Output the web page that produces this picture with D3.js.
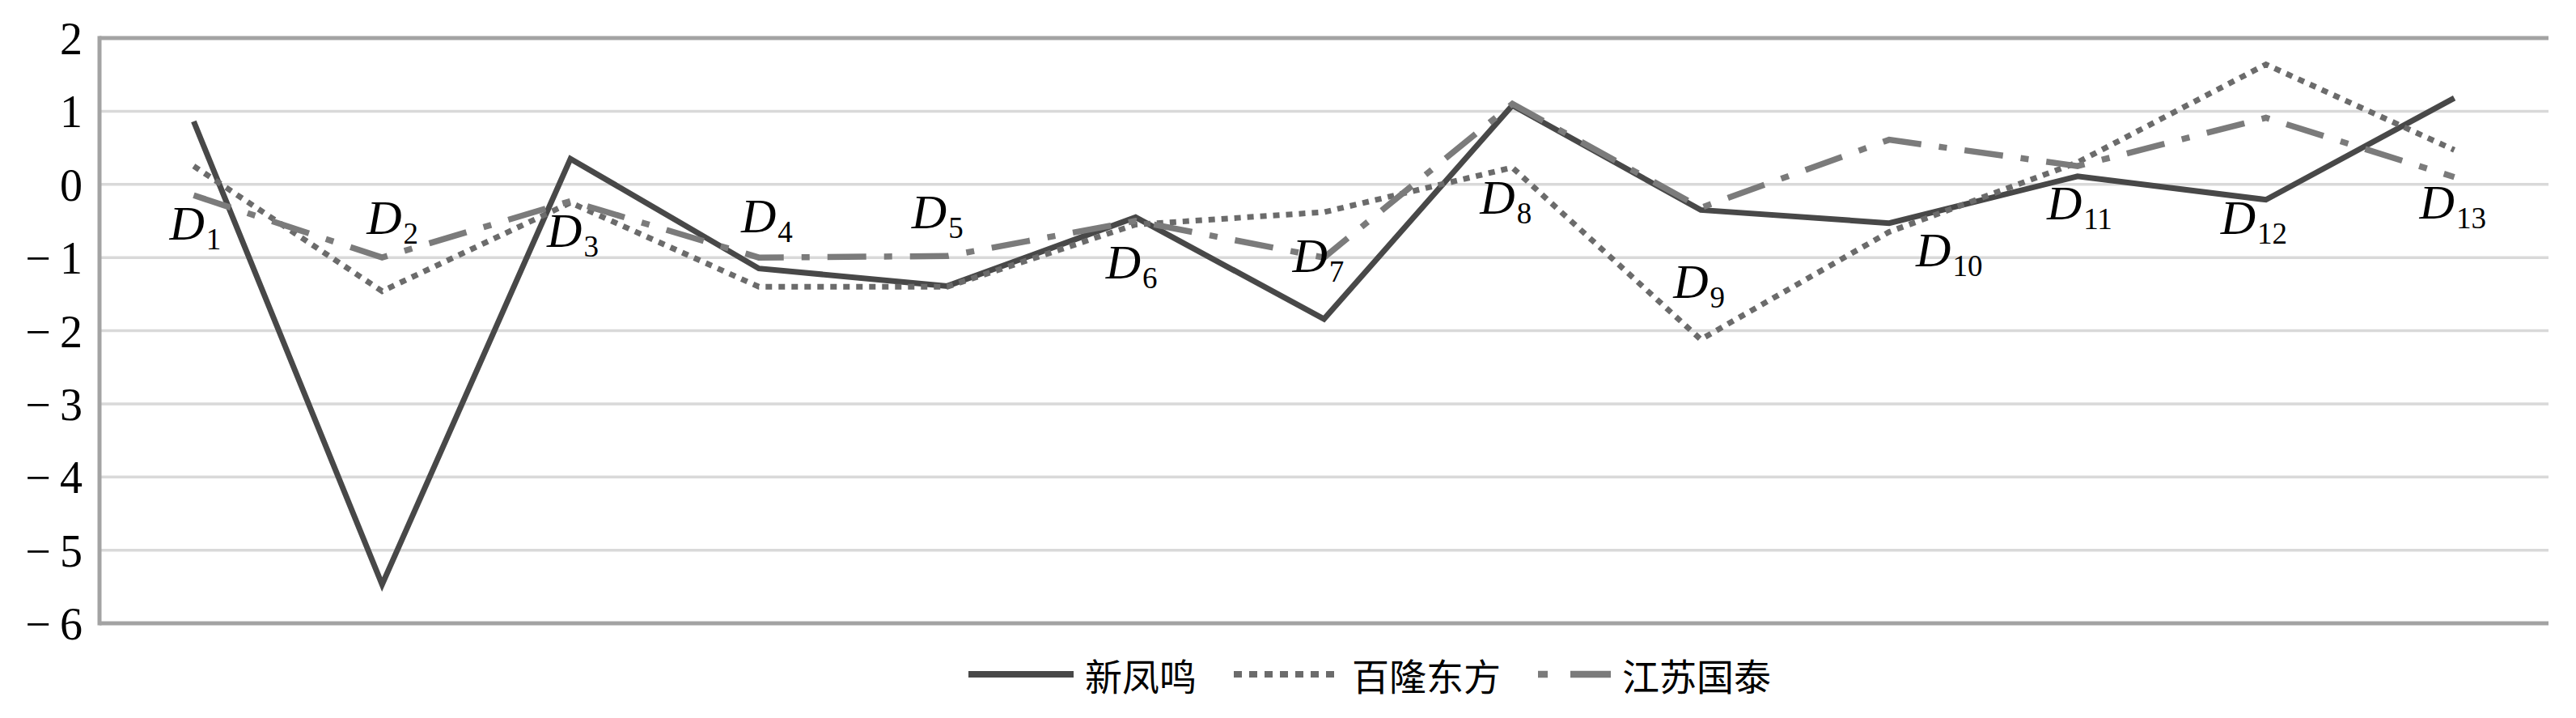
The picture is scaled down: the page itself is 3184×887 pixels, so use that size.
<!DOCTYPE html>
<html>
<head>
<meta charset="utf-8">
<script src="https://cdn.jsdelivr.net/npm/d3@7"></script>
<style>
  html, body { margin: 0; padding: 0; background: #fff; }
</style>
</head>
<body>
<div id="chart"></div>
<script>
// chart data
var categories = ["D1", "D2", "D3", "D4", "D5", "D6", "D7", "D8", "D9", "D10", "D11", "D12", "D13"];
var seriesNames = ["新凤鸣", "百隆东方", "江苏国泰"];
var xinfengming = [0.86, -5.47, 0.35, -1.15, -1.39, -0.45, -1.84, 1.08, -0.35, -0.53, 0.11, -0.21, 1.18];
var bailong     = [0.25, -1.46, -0.25, -1.40, -1.40, -0.55, -0.38, 0.23, -2.12, -0.65, 0.30, 1.64, 0.47];
var jiangsu     = [-0.15, -1.00, -0.23, -1.00, -0.98, -0.50, -1.00, 1.10, -0.32, 0.61, 0.25, 0.91, 0.10];
var yTicks = [2, 1, 0, -1, -2, -3, -4, -5, -6];

// where each D label sits (offset from its point, and its baseline in value units)
var labelDx = [-30, -19, -29, -22, -44, -37, -39, -40, -34, 33, -38, -56, -43];
var labelAt = [-0.76, -0.68, -0.85, -0.66, -0.60, -1.29, -1.20, -0.40, -1.55, -1.12, -0.48, -0.68, -0.47];

var SERIF = "'Liberation Serif'";
var W = 3184, H = 887;
var plot = { left: 123, right: 3150, top: 47, bottom: 770 };

var svg = d3.select("#chart").append("svg")
    .attr("width", W)
    .attr("height", H);

var x = d3.scalePoint().domain(categories).range([plot.left, plot.right]).padding(0.5);
var y = d3.scaleLinear().domain([-6, 2]).range([plot.bottom, plot.top]);

// gridlines (top and bottom ones are darker, like a frame)
svg.append("g").selectAll("line")
    .data(yTicks)
    .enter().append("line")
      .attr("x1", plot.left)
      .attr("x2", plot.right)
      .attr("y1", function (d) { return y(d); })
      .attr("y2", function (d) { return y(d); })
      .style("stroke", function (d) { return (d === 2 || d === -6) ? "#a3a3a3" : "#d9d9d9"; })
      .style("stroke-width", function (d) { return (d === 2 || d === -6) ? 5 : 3.5; });

// left axis line
svg.append("line")
    .attr("x1", plot.left).attr("x2", plot.left)
    .attr("y1", y(2) - 2.5).attr("y2", y(-6) + 2.5)
    .style("stroke", "#a3a3a3")
    .style("stroke-width", 5);

// y tick labels, drawn by d3 axis then stripped of its lines
var yAxis = d3.axisLeft(y)
    .tickValues(yTicks)
    .tickSize(0)
    .tickPadding(0)
    .tickFormat(function (d) { return d < 0 ? "\u2212\u2009" + Math.abs(d) : String(d); });

var ag = svg.append("g")
    .attr("transform", "translate(102,0)")
    .call(yAxis);
ag.select(".domain").remove();
ag.selectAll("text")
    .attr("dy", "0.35em")
    .style("font-family", SERIF)
    .style("font-size", "56px")
    .style("fill", "#000");

// the three lines
var styles = [
  { values: xinfengming, color: "#484848", width: 7, dash: null,
    legLen: 130, legDash: null },
  { values: bailong, color: "#6b6b6b", width: 7, dash: "8,8",
    legLen: 132, legDash: "10,9" },
  { values: jiangsu, color: "#7b7b7b", width: 7.5, dash: "48,22,10,22",
    legLen: 90, legDash: "12,28,50,100" }
];

var line = d3.line()
    .x(function (d, i) { return x(categories[i]); })
    .y(function (d) { return y(d); });

styles.forEach(function (s) {
  svg.append("path")
      .datum(s.values)
      .attr("d", line)
      .style("fill", "none")
      .style("stroke", s.color)
      .style("stroke-width", s.width)
      .style("stroke-dasharray", s.dash);
});

// D labels with subscripts
var labels = svg.append("g");
categories.forEach(function (c, i) {
  var t = labels.append("text")
      .attr("x", x(c) + labelDx[i])
      .attr("y", y(labelAt[i]))
      .style("font-family", SERIF)
      .style("fill", "#000");
  t.append("tspan")
      .style("font-style", "italic")
      .style("font-size", "60px")
      .text("D");
  t.append("tspan")
      .attr("dy", 12)
      .attr("dx", 2)
      .style("font-size", "37px")
      .text(c.slice(1));
});

// legend
var legend = svg.append("g");
var cursor = 1197, legY = 833;
styles.forEach(function (s, i) {
  legend.append("line")
      .attr("x1", cursor).attr("x2", cursor + s.legLen)
      .attr("y1", legY).attr("y2", legY)
      .style("stroke", s.color)
      .style("stroke-width", s.width + 1)
      .style("stroke-dasharray", s.legDash);
  cursor += s.legLen + 14;
  var txt = legend.append("text")
      .attr("x", cursor)
      .attr("y", legY + 4)
      .attr("dy", "0.35em")
      .style("font-family", "'Noto Sans CJK SC', sans-serif")
      .style("font-size", "46px")
      .style("fill", "#000")
      .text(seriesNames[i]);
  cursor += txt.node().getComputedTextLength() + 46;
});
</script>
</body>
</html>
